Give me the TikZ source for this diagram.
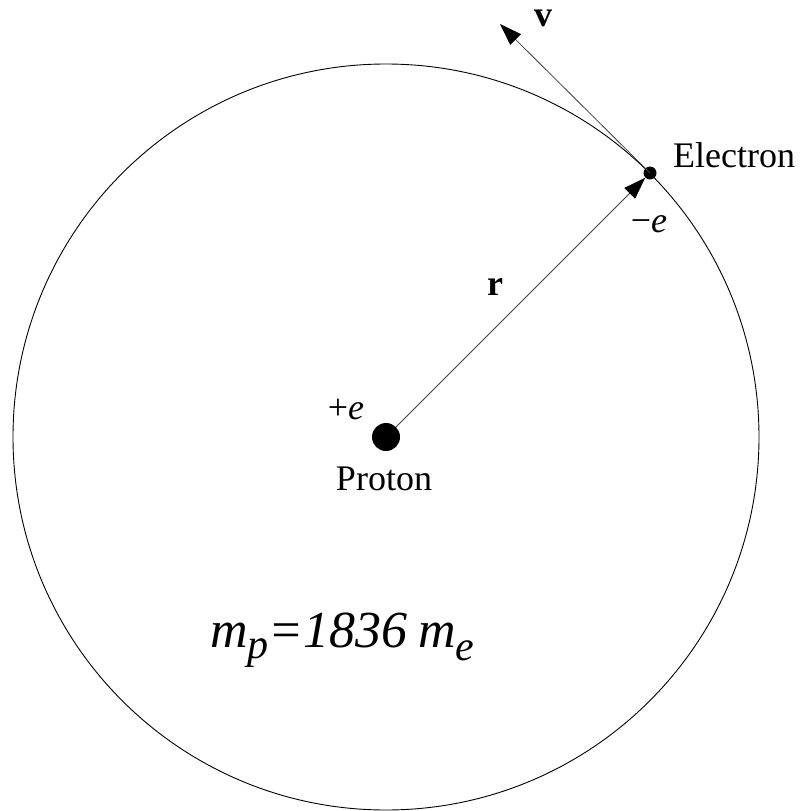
\documentclass[tikz,border=0pt]{standalone}
\usepackage{fontspec}
\setmainfont{Liberation Serif}
\usetikzlibrary{arrows.meta}
\begin{document}
\begin{tikzpicture}[x=1pt,y=-1pt,
  lbl/.style={inner sep=0pt,font=\fontsize{36}{40}\selectfont},
  vec/.style={draw=black!75,line width=0.8pt,-{Triangle[length=22pt,width=15pt,fill=black,color=black]}},
  particle/.style={circle,fill=black,inner sep=0pt}]
\useasboundingbox (0,0) rectangle (800,811);
\node[particle,minimum size=28pt] (proton) at (386,437) {};
\node[particle,minimum size=13pt] (electron) at (650,173) {};
\coordinate (vtip) at (500,24);
\draw[line width=0.9pt] (proton.center) circle (373pt);
\draw[vec] (proton) -- (electron);
\draw[vec] (electron.center) -- (vtip);
\node[lbl,anchor=base] (vlab) at (543,26) {\textbf{v}};
\node[lbl,anchor=base] (rlab) at (495,295) {\textbf{r}};
\node[lbl,anchor=base west] (elab) at (673,167) {Electron};
\node[lbl,anchor=base] (emlab) at (649,232) {−\textit{e}};
\node[lbl,anchor=base] (eplab) at (346,419) {+\textit{e}};
\node[lbl,anchor=base] (plab) at (384,490) {Proton};
\node[inner sep=0pt,anchor=base west,font=\fontsize{52}{58}\selectfont\itshape] (mass) at (210,647)
  {m\raisebox{-11pt}{\fontsize{42}{46}\selectfont p}=1836\hspace{0.2em}m\raisebox{-13pt}{\fontsize{42}{46}\selectfont e}};
\end{tikzpicture}
\end{document}
